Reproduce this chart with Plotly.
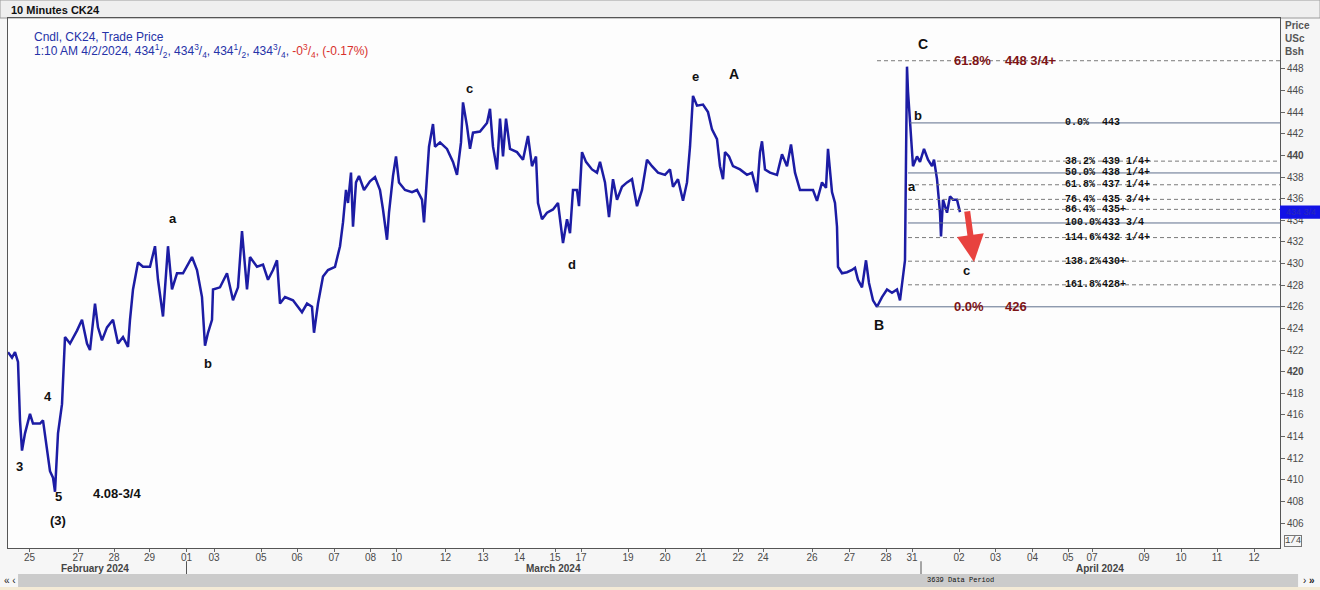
import plotly.graph_objects as go

# ---------------- data ----------------
# time index (chart time units) and price of the 10-minute series
t = [0, 4, 7, 10, 12, 14, 17, 22, 25, 32, 35, 39, 42, 45, 47, 50, 54, 57, 62, 69, 74, 79, 82, 87,
     90, 94, 99, 105, 110, 115, 120, 122, 125, 130, 135, 142, 147, 150, 155, 160, 164, 169, 175,
     184, 189, 194, 197, 200, 204, 205, 212, 219, 225, 230, 234, 239, 242, 249, 255, 260, 265,
     269, 272, 277, 285, 294, 299, 304, 306, 310, 315, 320, 327, 332, 335, 338, 340, 343, 345,
     348, 351, 356, 362, 367, 372, 375, 379, 381, 385, 388, 391, 397, 404, 409, 414, 416, 419,
     421, 425, 427, 432, 439, 445, 449, 453, 455, 459, 462, 465, 472, 479, 482, 485, 489, 492,
     495, 498, 502, 509, 515, 520, 524, 528, 530, 534, 539, 545, 550, 555, 559, 562, 565, 569,
     571, 574, 578, 584, 589, 592, 597, 601, 605, 609, 614, 619, 624, 629, 634, 639, 644, 650,
     657, 662, 665, 670, 675, 679, 682, 685, 689, 695, 700, 704, 709, 712, 715, 717, 721, 725,
     732, 739, 744, 749, 752, 754, 757, 762, 769, 774, 779, 783, 787, 792, 799, 805, 809, 814,
     818, 820, 824, 827, 829, 830, 834, 839, 844, 847, 850, 854, 858, 861, 865, 869, 874, 879,
     884, 889, 892, 895, 897, 898, 899, 900, 902, 904, 905, 909, 912, 916, 920, 924, 926, 929,
     932, 933, 935, 939, 942, 945, 949, 952]
price = [421.8, 421.3, 421.8, 420.9, 415.5, 412.7, 414.3, 416.1, 415.2, 415.2, 415.5, 413.0,
         410.8, 410.2, 408.9, 414.3, 417.0, 423.2, 422.6, 423.8, 424.8, 422.6, 422.0, 426.3,
         424.1, 422.9, 424.1, 424.8, 422.6, 423.2, 422.3, 424.8, 427.6, 430.1, 429.7, 429.7,
         431.6, 428.5, 425.1, 431.6, 427.6, 429.1, 429.1, 430.6, 429.4, 426.9, 422.4, 423.6,
         424.8, 427.6, 427.8, 429.1, 426.6, 427.8, 433.0, 427.6, 430.6, 429.7, 429.9, 428.5,
         429.4, 430.3, 426.3, 426.9, 426.6, 425.5, 426.3, 426.0, 423.6, 426.3, 428.8, 429.4,
         429.7, 431.6, 433.8, 436.8, 435.6, 438.4, 433.4, 437.5, 438.1, 436.8, 437.6, 438.0,
         436.8, 435.0, 432.2, 434.7, 438.1, 439.9, 437.5, 436.8, 436.6, 436.8, 435.9, 433.8,
         438.1, 440.8, 442.9, 440.8, 441.2, 440.6, 439.4, 438.2, 441.2, 444.9, 442.7, 440.6,
         442.1, 442.2, 443.0, 444.3, 440.8, 438.7, 443.4, 439.9, 443.4, 440.6, 440.3, 439.6,
         441.8, 439.0, 439.9, 435.6, 434.1, 434.7, 435.0, 435.6, 431.9, 434.1, 432.8, 436.8,
         436.8, 435.3, 440.3, 439.4, 438.7, 438.4, 439.4, 437.5, 434.3, 437.8, 435.9, 437.1,
         437.5, 437.8, 435.3, 436.8, 439.6, 439.0, 438.4, 438.2, 438.7, 437.1, 437.8, 435.8,
         437.5, 440.8, 445.5, 444.6, 444.7, 444.0, 442.4, 441.5, 439.0, 437.8, 440.3, 439.9,
         439.0, 438.7, 438.2, 438.4, 436.6, 440.3, 441.3, 438.7, 438.4, 438.2, 440.1, 439.0,
         441.0, 438.4, 436.8, 436.8, 436.8, 435.8, 437.5, 437.0, 440.6, 436.6, 435.6, 433.4,
         429.7, 429.1, 429.2, 429.4, 429.6, 428.5, 427.8, 430.3, 428.2, 426.6, 426.0, 426.9,
         427.6, 427.3, 427.6, 426.6, 428.8, 430.3, 439.6, 448.2, 445.9, 442.7, 440.3, 439.0,
         439.9, 439.4, 440.6, 439.6, 439.0, 439.6, 437.8, 434.7, 432.5, 435.9, 434.7, 436.2,
         435.9, 435.9, 434.75]

# x-axis day labels and their time index
tick_t = [21.5, 70, 106, 141.5, 178.5, 206, 253, 289, 326, 362.5, 388.5, 437.5, 475, 511.5,
          547, 573, 620, 657, 693, 730, 755, 804, 841.5, 878, 904, 951, 987.5, 1024.5, 1060,
          1084, 1136, 1173, 1209, 1246]
tick_lbl = ["25", "27", "28", "29", "01", "03", "05", "06", "07", "08", "10", "12", "13", "14",
            "15", "17", "19", "20", "21", "22", "24", "26", "27", "28", "31", "02", "03", "04",
            "05", "07", "09", "10", "11", "12"]
month_lbl = ["February 2024", "March 2024", "April 2024"]
month_t = [87, 545, 1092]
month_start_t = [178.5, 913]

# price axis
y_ticks = list(range(406, 449, 2))
bold_ticks = [420, 440]

# Fibonacci retracement b (443) -> a (433 3/4)
fib_hi, fib_lo = 443.0, 433.75
fib_ratio = [0.0, 0.382, 0.5, 0.618, 0.764, 0.864, 1.0, 1.146, 1.382, 1.618]
fib_pct = ["0.0%", "38.2%", "50.0%", "61.8%", "76.4%", "86.4%", "100.0%", "114.6%", "138.2%", "161.8%"]
fib_txt = ["443", "439 1/4+", "438 1/4+", "437 1/4+", "435 3/4+", "435+", "433 3/4", "432 1/4+", "430+", "428+"]
fib_solid = [True, False, True, False, False, False, True, False, False, False]
fib_start = [902, 929, 900, 900, 900, 900, 900, 900, 900, 900]

# large projection lines
big_price = [448.75, 426.0]
big_pct = ["61.8%", "0.0%"]
big_txt = ["448 3/4+", "426"]
big_solid = [False, True]
big_start = 869

# Elliott wave labels
wave_txt = ["3", "4", "5", "(3)", "4.08-3/4", "a", "b", "c", "d", "e", "A", "B", "C", "b", "a", "c"]
wave_t = [11, 40, 50, 50, 109, 165, 200, 461, 564, 687, 726, 871, 915, 910, 904, 958]
wave_p = [411.2, 417.7, 408.5, 406.2, 408.7, 434.2, 420.8, 446.2, 429.9, 447.3, 447.5, 424.3, 450.3, 443.7, 437.1, 429.4]
wave_sz = [13, 13, 13, 13, 13, 13, 13, 13, 13, 13, 14, 14, 14, 13, 13, 13]

last_price = 434.75
arrow_from = (959, 434.96)
arrow_to = (966, 430.15)

X_MAX = 1272
Y_MIN, Y_MAX = 403.7, 452.7

# ---------------- figure ----------------
fig = go.Figure()
fig.add_trace(go.Scatter(x=t, y=price, mode="lines",
                         line=dict(color="#1c1ca4", width=2.5), hoverinfo="skip",
                         showlegend=False))

shapes = []
annos = []
MONO = "Liberation Mono"
SANS = "Liberation Sans"

# fib retracement lines
for r, pct, txt, solid, x0 in zip(fib_ratio, fib_pct, fib_txt, fib_solid, fib_start):
    lvl = fib_hi - r * (fib_hi - fib_lo)
    shapes.append(dict(type="line", xref="x", yref="y", x0=x0, x1=X_MAX, y0=lvl, y1=lvl,
                       line=dict(color="#5f6f8c" if solid else "#7a7a7a", width=1,
                                 dash="solid" if solid else "4px,3px")))
    annos.append(dict(x=1055, y=lvl, xref="x", yref="y", text="<b>" + pct + "</b>",
                      showarrow=False, xanchor="left", yanchor="middle",
                      font=dict(family=MONO, size=10, color="#111")))
    annos.append(dict(x=1092, y=lvl, xref="x", yref="y", text="<b>" + txt + "</b>",
                      showarrow=False, xanchor="left", yanchor="middle",
                      font=dict(family=MONO, size=10, color="#111")))

for p, pct, txt, solid in zip(big_price, big_pct, big_txt, big_solid):
    shapes.append(dict(type="line", xref="x", yref="y", x0=big_start, x1=X_MAX, y0=p, y1=p,
                       line=dict(color="#5f6f8c" if solid else "#7a7a7a", width=1,
                                 dash="solid" if solid else "4px,3px")))
    annos.append(dict(x=944, y=p, xref="x", yref="y", text="<b>" + pct + "</b>",
                      showarrow=False, xanchor="left", yanchor="middle",
                      font=dict(family=SANS, size=13, color="#7d1416")))
    annos.append(dict(x=995, y=p, xref="x", yref="y", text="<b>" + txt + "</b>",
                      showarrow=False, xanchor="left", yanchor="middle",
                      font=dict(family=SANS, size=13, color="#7d1416")))

# wave labels
for txt, xx, yy, sz in zip(wave_txt, wave_t, wave_p, wave_sz):
    annos.append(dict(x=xx, y=yy, xref="x", yref="y", text="<b>" + txt + "</b>",
                      showarrow=False, xanchor="center", yanchor="middle",
                      font=dict(family=SANS, size=sz, color="#111")))

# red arrow
annos.append(dict(x=arrow_to[0], y=arrow_to[1], ax=arrow_from[0], ay=arrow_from[1],
                  xref="x", yref="y", axref="x", ayref="y", text="", showarrow=True,
                  arrowhead=2, arrowsize=0.9, arrowwidth=6, arrowcolor="#e8423f"))

# header / legend texts
annos.append(dict(x=0.0008, y=1.016, xref="paper", yref="paper", text="<b>10 Minutes CK24</b>",
                  showarrow=False, xanchor="left", yanchor="middle",
                  font=dict(family=SANS, size=11, color="#111")))
annos.append(dict(x=0.0189, y=0.9642, xref="paper", yref="paper", text="Cndl, CK24, Trade Price",
                  showarrow=False, xanchor="left", yanchor="middle",
                  font=dict(family=SANS, size=12, color="#2632a8")))
annos.append(dict(x=0.0189, y=0.9385, xref="paper", yref="paper",
                  text=("1:10 AM 4/2/2024, 434<sup>1</sup>/<sub>2</sub>, 434<sup>3</sup>/<sub>4</sub>, "
                        "434<sup>1</sup>/<sub>2</sub>, 434<sup>3</sup>/<sub>4</sub>, "
                        "<span style='color:#d8302c'>-0<sup>3</sup>/<sub>4</sub>, (-0.17%)</span>"),
                  showarrow=False, xanchor="left", yanchor="middle",
                  font=dict(family=SANS, size=12, color="#2632a8")))
annos.append(dict(x=1.0024, y=1.0, xref="paper", yref="paper", text="<b>Price<br>USc<br>Bsh</b>",
                  showarrow=False, xanchor="left", yanchor="top", align="left",
                  font=dict(family=SANS, size=10, color="#555")))

# last price marker
shapes.append(dict(type="rect", xref="paper", yref="y", x0=1.0, x1=1.032,
                   y0=last_price - 0.62, y1=last_price + 0.62,
                   fillcolor="#1212e6", line=dict(width=0)))
annos.append(dict(x=1.003, y=last_price, xref="paper", yref="y", text="434 3/4",
                  showarrow=False, xanchor="left", yanchor="middle",
                  font=dict(family=SANS, size=9, color="#2a2ab8")))
annos.append(dict(x=1.0035, y=0.0125, xref="paper", yref="paper", text="1/4",
                  showarrow=False, xanchor="left", yanchor="middle",
                  bordercolor="#777", borderwidth=1, borderpad=0,
                  font=dict(family=MONO, size=9, color="#444")))

# month labels & separators
for m, mt in zip(month_lbl, month_t):
    annos.append(dict(x=mt, y=-0.039, xref="x", yref="paper", text="<b>" + m + "</b>",
                      showarrow=False, xanchor="center", yanchor="middle",
                      font=dict(family=SANS, size=10, color="#444")))
for ms in month_start_t:
    shapes.append(dict(type="line", xref="x", yref="paper", x0=ms, x1=ms, y0=-0.025, y1=-0.05,
                       line=dict(color="#555", width=1)))

# header frame and scrollbar
shapes.append(dict(type="rect", xref="paper", yref="paper", x0=-0.0063, x1=1.0315, y0=1.0, y1=1.034,
                   fillcolor="#efefef", line=dict(color="#9a9a9a", width=1), layer="below"))
shapes.append(dict(type="rect", xref="paper", yref="paper", x0=0.0079, x1=1.0142, y0=-0.049, y1=-0.0736,
                   fillcolor="#cbcbcb", line=dict(width=0)))
shapes.append(dict(type="rect", xref="paper", yref="paper", x0=-0.0063, x1=1.0315, y0=-0.0736, y1=-0.08,
                   fillcolor="#f3ead6", line=dict(width=0)))
annos.append(dict(x=0.7485, y=-0.0613, xref="paper", yref="paper", text="3639 Data Period",
                  showarrow=False, xanchor="center", yanchor="middle",
                  font=dict(family=MONO, size=7, color="#111")))
annos.append(dict(x=-0.0045, y=-0.0613, xref="paper", yref="paper", text="« ‹",
                  showarrow=False, xanchor="left", yanchor="middle",
                  font=dict(family=SANS, size=10, color="#222")))
annos.append(dict(x=1.0165, y=-0.0613, xref="paper", yref="paper", text="› <b>»</b>",
                  showarrow=False, xanchor="left", yanchor="middle",
                  font=dict(family=SANS, size=10, color="#222")))

fig.update_layout(
    width=1320, height=590,
    margin=dict(l=8, r=40, t=18, b=42),
    paper_bgcolor="#f6f6f6",
    plot_bgcolor="#fdfdfd",
    shapes=shapes,
    annotations=annos,
    showlegend=False,
    xaxis=dict(range=[0, X_MAX], tickvals=tick_t, ticktext=tick_lbl, ticks="outside",
               ticklen=3, tickcolor="#666", showgrid=False, zeroline=False,
               showline=True, linecolor="#555", linewidth=1, mirror=True,
               ticklabelstandoff=-3,
               tickfont=dict(family=SANS, size=10, color="#4a4a4a")),
    yaxis=dict(range=[Y_MIN, Y_MAX], side="right", tickvals=y_ticks,
               ticktext=[("<b>%d</b>" % v) if v in bold_ticks else str(v) for v in y_ticks],
               ticks="outside", ticklen=4, tickcolor="#666", showgrid=False, zeroline=False,
               showline=True, linecolor="#555", linewidth=1, mirror=True,
               tickfont=dict(family=SANS, size=10, color="#4a4a4a")),
)

fig.write_html("out.html", post_script="document.body.style.margin='0';",
               config={"displayModeBar": False})
